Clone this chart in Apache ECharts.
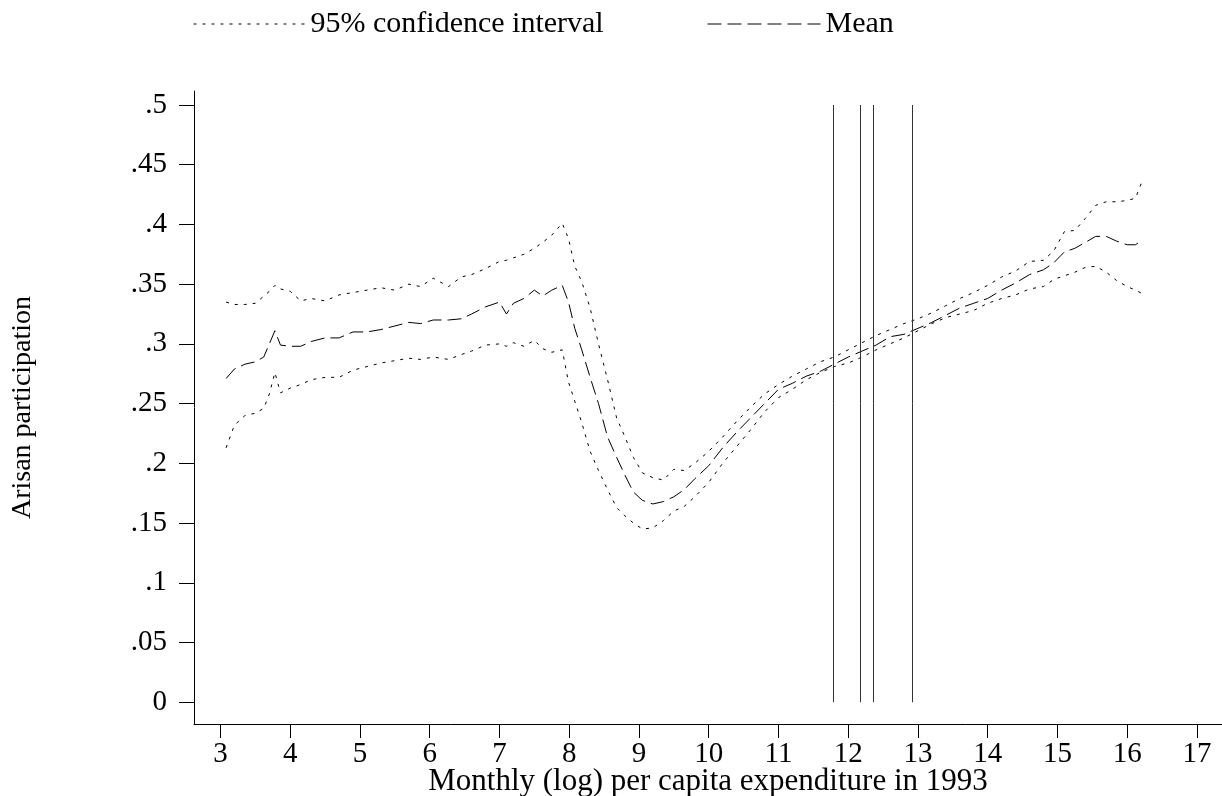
<!DOCTYPE html>
<html>
<head>
<meta charset="utf-8">
<script src="https://cdn.jsdelivr.net/npm/echarts@6/dist/echarts.min.js"></script>
<style>
html,body{margin:0;padding:0;background:#fff;}
#chart{width:1222px;height:796px;}
</style>
</head>
<body>
<div id="chart"></div>
<script>
// ---- data ----
const xValues = [3.08,3.2,3.35,3.5,3.62,3.7,3.78,3.86,4.0,4.15,4.3,4.5,4.7,4.9,5.1,5.3,5.5,5.7,5.87,6.05,6.27,6.45,6.6,6.8,7.0,7.1,7.2,7.35,7.5,7.62,7.75,7.9,7.99,8.08,8.18,8.3,8.42,8.55,8.68,8.8,8.92,9.05,9.2,9.35,9.5,9.65,9.8,10.0,10.2,10.4,10.6,10.8,11.0,11.2,11.4,11.6,11.8,12.0,12.2,12.4,12.6,12.8,13.0,13.2,13.4,13.6,13.8,14.0,14.2,14.4,14.6,14.8,14.95,15.1,15.25,15.4,15.55,15.7,15.85,16.0,16.12,16.22];
const upperCI = [.335,.333,.333,.334,.340,.344,.349,.346,.344,.336,.338,.336,.341,.343,.345,.347,.345,.350,.348,.355,.348,.356,.358,.363,.369,.370,.372,.375,.380,.385,.391,.401,.388,.365,.352,.330,.300,.270,.238,.222,.205,.192,.188,.186,.195,.194,.200,.210,.222,.235,.247,.258,.266,.273,.279,.285,.289,.295,.301,.307,.312,.317,.321,.326,.332,.338,.343,.349,.356,.361,.369,.370,.378,.394,.395,.405,.416,.419,.419,.420,.422,.437];
const meanVals = [.271,.279,.283,.285,.289,.300,.311,.299,.298,.298,.302,.305,.305,.310,.310,.312,.315,.318,.317,.320,.320,.321,.325,.331,.335,.325,.334,.338,.345,.340,.345,.349,.335,.313,.295,.272,.250,.222,.205,.190,.176,.169,.166,.168,.172,.178,.187,.198,.213,.226,.238,.250,.262,.267,.273,.277,.283,.289,.294,.299,.306,.308,.313,.318,.324,.330,.334,.338,.345,.351,.358,.362,.368,.377,.380,.385,.390,.390,.386,.383,.383,.387];
const lowerCI = [.213,.232,.240,.242,.246,.258,.276,.259,.263,.266,.270,.272,.272,.278,.281,.284,.286,.288,.287,.289,.287,.291,.294,.299,.300,.298,.301,.298,.303,.296,.293,.295,.268,.252,.234,.210,.194,.178,.163,.156,.150,.145,.146,.152,.160,.164,.172,.184,.200,.214,.228,.243,.255,.262,.270,.276,.281,.284,.289,.295,.300,.305,.311,.317,.322,.325,.328,.334,.338,.341,.346,.348,.354,.357,.360,.364,.365,.360,.353,.348,.345,.342];
const verticalLinesX = [11.78, 12.18, 12.36, 12.92];
const verticalLineRange = [0, 0.5];
const xTicks = [3,4,5,6,7,8,9,10,11,12,13,14,15,16,17];
const yTicks = [0,.05,.1,.15,.2,.25,.3,.35,.4,.45,.5];
const ciName = '95% confidence interval';
const meanName = 'Mean';
const xTitle = 'Monthly (log) per capita expenditure in 1993';
const yTitle = 'Arisan participation';

// ---- chart ----
const FONT = '"Liberation Serif","Times New Roman",serif';
const pair = (xs, ys) => xs.map((x, i) => [x, ys[i]]);
const chart = echarts.init(document.getElementById('chart'), null, {renderer: 'canvas'});

const lineSeries = (name, data, dash) => ({
  name, type: 'line', data, symbol: 'none', showSymbol: false,
  lineStyle: {color: '#000', width: 1, type: dash},
  itemStyle: {color: '#000'},
  silent: true, z: 3
});

const meanSeries = lineSeries(meanName, pair(xValues, meanVals), [14, 6]);
meanSeries.markLine = {
  silent: true, symbol: ['none', 'none'], label: {show: false},
  lineStyle: {color: '#333', width: 1, type: 'solid'},
  data: verticalLinesX.map(x => [{coord: [x, verticalLineRange[0]]}, {coord: [x, verticalLineRange[1]]}])
};

const yFmt = v => {
  if (Math.abs(v) < 1e-9) return '0';
  return (Math.round(v * 100) / 100).toString().replace(/^0\./, '.');
};

const legendBase = {
  top: 9, padding: 0, itemHeight: 14, itemGap: 0, selectedMode: false,
  itemStyle: {opacity: 0},
  lineStyle: {color: '#000', width: 1},
  textStyle: {fontFamily: FONT, fontSize: 30, color: '#000'}
};

chart.setOption({
  animation: false,
  backgroundColor: '#fff',
  textStyle: {fontFamily: FONT, color: '#000'},
  legend: [
    Object.assign({}, legendBase, {data: [ciName], left: 193, itemWidth: 112}),
    Object.assign({}, legendBase, {data: [meanName], left: 707, itemWidth: 113})
  ],
  grid: {left: 194, top: 91, width: 1028, height: 633, containLabel: false, outerBoundsMode: 'none'},
  xAxis: {
    type: 'value', min: 2.62, max: 17.36,
    name: xTitle, nameLocation: 'middle', nameGap: 42, nameMoveOverlap: false,
    nameTextStyle: {fontFamily: FONT, fontSize: 31, color: '#000'},
    axisLine: {show: true, onZero: false, lineStyle: {color: '#000', width: 1}},
    axisTick: {show: true, length: 14, customValues: xTicks, lineStyle: {color: '#000', width: 1}},
    axisLabel: {customValues: xTicks, fontFamily: FONT, fontSize: 29, color: '#000', margin: 16},
    splitLine: {show: false}
  },
  yAxis: {
    type: 'value', min: -0.0182, max: 0.5117,
    name: yTitle, nameLocation: 'middle', nameGap: 157, nameRotate: 90, nameMoveOverlap: false,
    nameTextStyle: {fontFamily: FONT, fontSize: 28, color: '#000'},
    axisLine: {show: true, onZero: false, lineStyle: {color: '#000', width: 1}},
    axisTick: {show: true, length: 15, customValues: yTicks, lineStyle: {color: '#000', width: 1}},
    axisLabel: {customValues: yTicks, formatter: yFmt, fontFamily: FONT, fontSize: 29, color: '#000', margin: 27},
    splitLine: {show: false}
  },
  series: [
    lineSeries(ciName, pair(xValues, upperCI), [3, 6]),
    lineSeries(ciName, pair(xValues, lowerCI), [3, 6]),
    meanSeries
  ]
});
</script>
</body>
</html>
